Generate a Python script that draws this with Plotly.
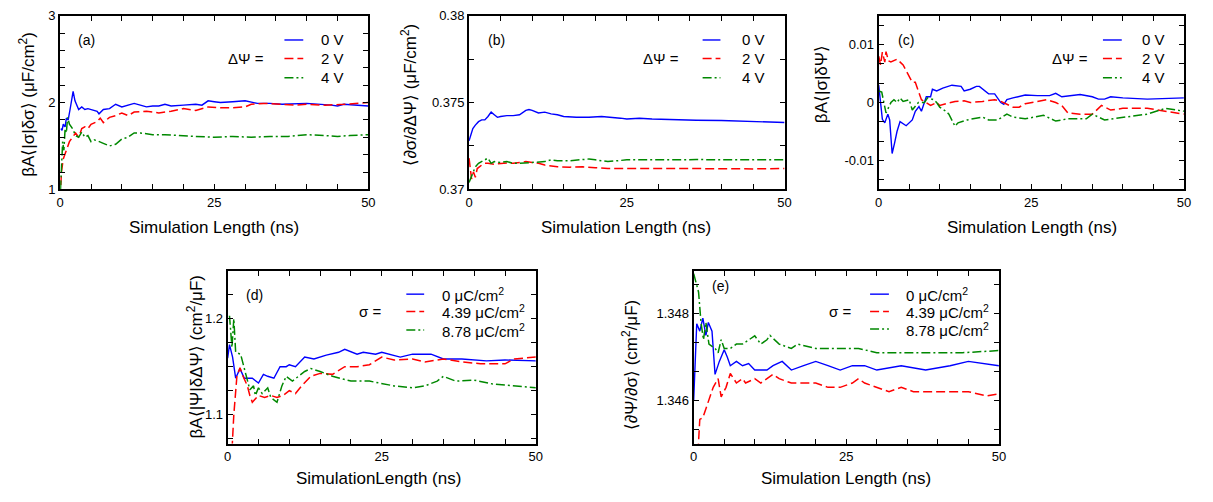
import plotly.graph_objects as go

W, H = 1213, 502
FONT = "Liberation Sans, Arial, Helvetica, sans-serif"
BLUE, RED, GREEN = "#0000ff", "#ff0000", "#008800"
DASH_RED = "9px,4px"
DASH_GREEN = "9px,3px,2px,3px"

# ---------------- data ----------------
# (a) beta A <|sigma| delta sigma>
ta_0 = [0.1, 0.3, 0.5, 0.8, 1.0, 1.3, 1.6, 1.9, 2.1, 2.4, 2.7, 3.0, 3.5, 4.0, 4.5, 5.0, 5.5, 6.0, 6.3, 7.0, 8.0, 9.0, 10, 11, 12, 13, 14, 15, 16, 17, 18, 20, 22, 23, 24, 25, 26, 28, 30, 32, 34, 36, 40, 44, 45, 46, 48, 50]
a_0 = [1.70, 1.68, 1.75, 1.72, 1.82, 1.80, 1.92, 2.05, 2.13, 2.02, 1.96, 1.92, 1.95, 1.92, 1.93, 1.92, 1.91, 1.90, 1.87, 1.92, 1.93, 1.98, 1.95, 1.97, 1.99, 1.97, 1.95, 1.96, 1.96, 1.98, 1.96, 1.97, 1.98, 1.97, 2.02, 2.01, 2.00, 2.01, 2.02, 1.99, 1.99, 1.98, 1.99, 1.97, 1.96, 1.98, 1.97, 1.96]
ta_2 = [0.1, 0.2, 0.5, 1.0, 1.5, 2.0, 2.5, 3.0, 3.5, 4.0, 4.5, 5.0, 6.0, 6.5, 7.0, 8.0, 9.0, 10, 11, 12, 14, 16, 18, 20, 22, 24, 26, 28, 30, 31, 33, 36, 38, 40, 43, 46, 48, 50]
a_2 = [1.05, 1.20, 1.35, 1.45, 1.55, 1.60, 1.65, 1.60, 1.70, 1.72, 1.70, 1.75, 1.78, 1.82, 1.77, 1.83, 1.85, 1.88, 1.85, 1.89, 1.90, 1.88, 1.90, 1.93, 1.91, 1.95, 1.94, 1.94, 1.95, 1.98, 1.99, 1.98, 1.97, 1.98, 1.97, 1.98, 1.99, 2.00]
ta_4 = [0.05, 0.2, 0.4, 0.6, 0.8, 1.0, 1.2, 1.5, 2.0, 2.5, 3.0, 3.5, 4.0, 4.5, 5.0, 5.5, 6.0, 7.0, 8.0, 9.0, 10, 11, 12, 13, 15, 17, 19, 22, 25, 28, 31, 34, 37, 40, 43, 45, 47, 50]
a_4 = [1.00, 1.35, 1.55, 1.45, 1.70, 1.65, 1.83, 1.75, 1.70, 1.62, 1.60, 1.66, 1.60, 1.62, 1.55, 1.57, 1.56, 1.53, 1.50, 1.52, 1.58, 1.60, 1.65, 1.65, 1.63, 1.63, 1.62, 1.61, 1.60, 1.61, 1.60, 1.61, 1.61, 1.63, 1.62, 1.61, 1.62, 1.63]

# (b) <d sigma / d DeltaPsi>
tb_0 = [0, 0.3, 0.6, 1.0, 1.5, 2.0, 2.5, 3.0, 3.5, 4.0, 4.5, 5, 6, 7, 8, 9, 9.5, 10, 11, 12, 13, 14, 15, 17, 19, 21, 23, 24, 25, 27, 29, 31, 33, 36, 40, 44, 47, 50]
b_0 = [0.3728, 0.3732, 0.3735, 0.3737, 0.3739, 0.3740, 0.3740, 0.3742, 0.37445, 0.3743, 0.37415, 0.3742, 0.37425, 0.37425, 0.3743, 0.37455, 0.3746, 0.37455, 0.3744, 0.37445, 0.37435, 0.3743, 0.3742, 0.37415, 0.37415, 0.3742, 0.37415, 0.3741, 0.37405, 0.3741, 0.37405, 0.37402, 0.3740, 0.37398, 0.37397, 0.37393, 0.3739, 0.37385]
tb_2 = [0, 0.2, 0.4, 0.7, 1.0, 1.3, 1.6, 2.0, 2.5, 3, 4, 5, 6, 7, 8, 9, 10, 11, 12, 13, 14, 16, 18, 20, 22, 25, 28, 31, 35, 40, 45, 50]
b_2 = [0.3718, 0.3711, 0.3706, 0.3710, 0.3707, 0.3712, 0.3713, 0.3714, 0.3715, 0.3715, 0.37145, 0.3715, 0.37152, 0.3715, 0.37155, 0.3716, 0.37155, 0.3715, 0.3714, 0.37135, 0.3713, 0.37128, 0.3713, 0.37125, 0.3712, 0.3712, 0.37122, 0.3712, 0.3712, 0.37118, 0.37118, 0.3712]
tb_4 = [0, 0.3, 0.6, 1.0, 1.5, 2.0, 2.5, 3.0, 3.5, 4, 5, 6, 7, 8, 10, 12, 13, 14, 16, 18, 19, 20, 22, 25, 28, 30, 33, 36, 40, 45, 50]
b_4 = [0.3704, 0.3707, 0.3710, 0.3713, 0.3715, 0.3716, 0.3717, 0.3718, 0.3715, 0.3716, 0.37155, 0.3716, 0.3715, 0.3715, 0.37155, 0.3716, 0.3717, 0.37165, 0.37165, 0.3717, 0.37175, 0.3717, 0.3716, 0.3717, 0.37168, 0.3717, 0.3717, 0.37172, 0.3717, 0.3717, 0.3717]

# (c) beta A <|sigma| delta Psi>
tc_0 = [0, 0.3, 0.6, 1.0, 1.5, 1.8, 2.2, 2.6, 3.0, 3.5, 4.5, 5.5, 6.0, 6.6, 7.0, 7.8, 8.5, 8.8, 9.5, 10.5, 12, 13.5, 14, 15, 16, 16.5, 18, 19, 20, 20.5, 21, 22, 24, 26, 28, 29, 30, 33, 35, 36, 37, 38, 40, 44, 46, 50]
c_0 = [0.0030, 0.0000, -0.0029, -0.0035, -0.0020, -0.0030, -0.0088, -0.0070, -0.0050, -0.0033, -0.0040, -0.0030, -0.0015, -0.0007, -0.0015, 0.0010, 0.0010, 0.0023, 0.0020, 0.0025, 0.0030, 0.0028, 0.0020, 0.0023, 0.0028, 0.0028, 0.0015, 0.0015, 0.0000, -0.0003, 0.0005, 0.0008, 0.0013, 0.0012, 0.0012, 0.0016, 0.0010, 0.0014, 0.0010, 0.0006, 0.0006, 0.0010, 0.0008, 0.0006, 0.0007, 0.0008]
tc_2 = [0, 0.3, 0.6, 1.0, 1.2, 1.6, 2.0, 3.0, 4.0, 4.8, 5.5, 6.0, 6.5, 7.0, 8.5, 9.5, 10, 11, 12.5, 14, 15, 17, 19, 20, 22, 23, 24, 26, 27.5, 29, 30, 31, 33, 35, 36.5, 38, 40, 44, 47, 50]
c_2 = [0.0080, 0.0065, 0.0087, 0.0070, 0.0088, 0.0072, 0.0070, 0.0075, 0.0065, 0.0048, 0.0035, 0.0035, 0.0020, 0.0005, -0.0005, 0.0000, -0.0005, -0.0002, 0.0002, 0.0003, 0.0000, 0.0002, 0.0005, 0.0002, -0.0008, -0.0008, -0.0002, 0.0002, 0.0005, 0.0000, -0.0005, -0.0018, -0.0020, -0.0020, -0.0005, -0.0013, -0.0010, -0.0010, -0.0015, -0.0020]
tc_4 = [0, 0.5, 1.2, 2.0, 2.5, 3.0, 3.5, 4.0, 5.0, 5.5, 6.5, 7.5, 8.0, 9.0, 9.5, 10, 11, 11.5, 12.5, 13, 14.5, 17, 18, 19.5, 21, 22, 24, 27, 29, 31, 34, 35, 37, 41, 44, 47, 50]
c_4 = [0.0020, 0.0018, -0.0018, 0.0000, 0.0005, 0.0000, 0.0008, 0.0002, 0.0005, -0.0013, 0.0000, 0.0000, 0.0008, 0.0005, 0.0000, -0.0008, -0.0015, -0.0020, -0.0041, -0.0035, -0.0030, -0.0025, -0.0030, -0.0030, -0.0020, -0.0025, -0.0028, -0.0022, -0.0032, -0.0028, -0.0028, -0.0020, -0.0030, -0.0025, -0.0020, -0.0010, -0.0015]

# (d) beta A <|Psi| delta DeltaPsi>
td_0 = [0, 0.3, 0.8, 1.3, 2.0, 2.7, 4.0, 5.0, 5.8, 6.5, 7.5, 8.5, 9.5, 10, 11, 12.5, 14, 16, 18, 19, 21, 22, 24, 25, 28, 30, 33, 35, 38, 42, 45, 50]
d_0 = [1.159, 1.173, 1.160, 1.138, 1.148, 1.138, 1.138, 1.133, 1.142, 1.140, 1.138, 1.150, 1.150, 1.152, 1.150, 1.160, 1.158, 1.162, 1.165, 1.168, 1.163, 1.165, 1.163, 1.165, 1.160, 1.163, 1.163, 1.158, 1.158, 1.156, 1.157, 1.156]
td_2 = [0.6, 1.0, 1.5, 2.0, 2.5, 3.2, 3.6, 4.0, 5.0, 6.0, 7.0, 8.0, 9.0, 10, 11, 12, 13.5, 15, 17, 19, 21, 23, 25, 27, 30, 32, 35, 38, 41, 45, 46.5, 50]
d_2 = [1.050, 1.100, 1.140, 1.149, 1.140, 1.130, 1.120, 1.113, 1.120, 1.118, 1.120, 1.118, 1.120, 1.125, 1.122, 1.130, 1.140, 1.143, 1.142, 1.150, 1.150, 1.152, 1.160, 1.157, 1.158, 1.155, 1.158, 1.155, 1.153, 1.153, 1.158, 1.160]
td_4 = [0.3, 0.7, 1.0, 1.3, 2.1, 3.0, 3.6, 4.2, 4.5, 5.0, 5.6, 6.5, 7.0, 8.0, 8.8, 9.5, 10.5, 11.5, 12.5, 13.5, 15, 17, 20, 23, 27, 30, 32, 34, 35, 37, 40, 43, 46, 50]
d_4 = [1.203, 1.170, 1.200, 1.165, 1.163, 1.140, 1.126, 1.130, 1.120, 1.128, 1.122, 1.128, 1.118, 1.113, 1.130, 1.140, 1.135, 1.140, 1.145, 1.148, 1.145, 1.140, 1.135, 1.135, 1.130, 1.128, 1.130, 1.135, 1.140, 1.135, 1.136, 1.132, 1.130, 1.128]

# (e) <d Psi / d sigma>
te_0 = [0, 0.5, 1.0, 1.5, 2.0, 2.4, 3.0, 3.5, 4.2, 5.0, 5.5, 6.0, 7, 8, 9, 10, 12, 13, 14.5, 16, 18, 20, 22, 24, 26, 28, 30, 34, 38, 42, 45, 50]
e_0 = [1.3460, 1.34777, 1.3476, 1.3479, 1.3475, 1.3478, 1.3476, 1.3466, 1.3469, 1.34717, 1.3470, 1.3468, 1.3469, 1.3468, 1.34685, 1.3467, 1.3467, 1.3468, 1.3469, 1.3467, 1.3468, 1.3469, 1.3468, 1.3467, 1.3468, 1.3468, 1.3467, 1.3468, 1.3467, 1.3468, 1.3469, 1.3468]
te_2 = [0.7, 1.0, 1.5, 2.5, 3.2, 4.0, 4.5, 5.3, 6.0, 7, 8, 8.5, 10, 11, 12, 13, 14, 16, 18, 20, 22, 24, 26, 27, 28, 30, 32, 34, 36, 40, 45, 48, 50]
e_2 = [1.3448, 1.34556, 1.3456, 1.3460, 1.3463, 1.3465, 1.34608, 1.3463, 1.34662, 1.3464, 1.3465, 1.3464, 1.3465, 1.3464, 1.3465, 1.3466, 1.3465, 1.3464, 1.3464, 1.3464, 1.3463, 1.3463, 1.3464, 1.3465, 1.3464, 1.3463, 1.3462, 1.3463, 1.3462, 1.3462, 1.3462, 1.3461, 1.34615]
te_4 = [0, 0.8, 1.2, 1.6, 2.0, 2.5, 3.5, 4.0, 4.5, 5, 6, 7, 8, 9, 10, 11, 12, 12.5, 14, 16, 17, 20, 22, 25, 27, 30, 33, 36, 40, 44, 50]
e_4 = [1.34893, 1.3485, 1.3478, 1.3474, 1.3478, 1.3473, 1.3472, 1.3471, 1.3474, 1.3472, 1.3472, 1.3473, 1.3473, 1.3474, 1.34749, 1.3473, 1.3474, 1.3475, 1.3473, 1.3472, 1.3473, 1.3472, 1.3472, 1.3472, 1.3472, 1.3471, 1.3471, 1.3471, 1.3471, 1.3471, 1.34715]

volt_labels = ["0 V", "2 V", "4 V"]
sigma_labels = ["0 \u03bcC/cm<sup>2</sup>", "4.39 \u03bcC/cm<sup>2</sup>", "8.78 \u03bcC/cm<sup>2</sup>"]
x_range = [0, 50]

# ---------------- layout helpers ----------------
def px(x):
    return x / W

def py(y):
    return 1 - y / H

fig = go.Figure()

panels = [
    dict(k="", xd=(56.7, 367.7), yd=(9, 188), yr=[1, 3], dt=1, t0=1, mdt=0.2, m0=1,
         series=[(ta_0, a_0), (ta_2, a_2), (ta_4, a_4)], labels=volt_labels, fmt=None),
    dict(k="2", xd=(469.3, 787.7), yd=(9, 188), yr=[0.37, 0.38], dt=0.005, t0=0.37, mdt=0.0025, m0=0.37,
         series=[(tb_0, b_0), (tb_2, b_2), (tb_4, b_4)], labels=volt_labels, fmt=None),
    dict(k="3", xd=(882.7, 1190.7), yd=(9, 188), yr=[-0.015, 0.015], dt=0.01, t0=0, mdt=0.01 / 3, m0=0,
         series=[(tc_0, c_0), (tc_2, c_2), (tc_4, c_4)], labels=volt_labels, fmt="hyphen"),
    dict(k="4", xd=(225.7, 536.7), yd=(271.7, 450), yr=[1.07, 1.25], dt=0.1, t0=1.0, mdt=0.025, m0=1.0,
         series=[(td_0, d_0), (td_2, d_2), (td_4, d_4)], labels=sigma_labels, fmt=None),
    dict(k="5", xd=(696, 1004), yd=(271.7, 450), yr=[1.345, 1.349], dt=0.002, t0=1.346, mdt=0.002 / 3, m0=1.346,
         series=[(te_0, e_0), (te_2, e_2), (te_4, e_4)], labels=sigma_labels, fmt=None),
]

styles = [dict(color=BLUE, width=1.4, dash="solid"),
          dict(color=RED, width=1.5, dash=DASH_RED),
          dict(color=GREEN, width=1.5, dash=DASH_GREEN)]

axis_common = dict(showline=True, linecolor="black", linewidth=2, mirror="ticks",
                   ticks="inside", ticklen=5, tickwidth=1, tickcolor="black",
                   showgrid=False, zeroline=False,
                   tickfont=dict(family=FONT, size=13, color="black"))

layout = dict(width=W, height=H, margin=dict(l=0, r=0, t=0, b=0, pad=0),
              paper_bgcolor="white", plot_bgcolor="white", showlegend=False,
              font=dict(family=FONT, color="black"))

for p in panels:
    k = p["k"]
    xa = "xaxis" + k
    ya = "yaxis" + k
    layout[xa] = dict(axis_common, domain=[px(p["xd"][0]), px(p["xd"][1])], range=x_range,
                      tickmode="linear", tick0=0, dtick=25,
                      minor=dict(tickmode="linear", tick0=0, dtick=5, ticks="inside",
                                 ticklen=5, tickwidth=1, tickcolor="black", showgrid=False),
                      anchor="y" + k)
    ycfg = dict(axis_common, domain=[py(p["yd"][1]), py(p["yd"][0])], range=p["yr"],
                tickmode="linear", tick0=p["t0"], dtick=p["dt"],
                minor=dict(tickmode="linear", tick0=p["m0"], dtick=p["mdt"], ticks="inside",
                           ticklen=5, tickwidth=1, tickcolor="black", showgrid=False),
                anchor="x" + k)
    if p["fmt"] == "hyphen":
        ycfg.update(tickmode="array", tickvals=[-0.01, 0, 0.01], ticktext=["-0.01", "0", "0.01"])
    layout[ya] = ycfg
    for (t, v), st, lab in zip(p["series"], styles, p["labels"]):
        fig.add_trace(go.Scatter(x=t, y=v, mode="lines", line=st, name=lab,
                                 xaxis="x" + k, yaxis="y" + k, hoverinfo="x+y"))

annotations = []
shapes = []

def text(x, y, s, size=14, angle=0, xanchor="center", yanchor="middle"):
    annotations.append(dict(x=px(x), y=py(y), xref="paper", yref="paper", text=s,
                            showarrow=False, textangle=angle, xanchor=xanchor,
                            yanchor=yanchor, font=dict(family=FONT, size=size, color="black")))

# axis titles
text(212, 227, "Simulation Length (ns)", 17)
text(628, 227, "Simulation Length (ns)", 17)
text(1037, 227, "Simulation Length (ns)", 17)
text(378, 486, "SimulationLength (ns)", 17)
text(850, 486, "Simulation Length (ns)", 17)

text(23, 100, "\u03b2A\u27e8|\u03c3|\u03b4\u03c3\u27e9 (\u03bcF/cm<sup>2</sup>)", 17, -90)
text(409, 90, "\u27e8\u2202\u03c3/\u2202\u0394\u03a8\u27e9 (\u03bcF/cm<sup>2</sup>)", 17, -90)
text(825, 80, "\u03b2A\u27e8|\u03c3|\u03b4\u03a8\u27e9", 17, -90)
text(193, 361, "\u03b2A\u27e8|\u03a8|\u03b4\u0394\u03a8\u27e9 (cm<sup>2</sup>/\u03bcF)", 17, -90)
text(632, 369, "\u27e8\u2202\u03a8/\u2202\u03c3\u27e9 (cm<sup>2</sup>/\u03bcF)", 17, -90)

# panel labels
for lab, x, y in [("(a)", 83, 34), ("(b)", 497, 34), ("(c)", 910, 34), ("(d)", 253, 297), ("(e)", 723, 288)]:
    text(x, y, lab, 14)

# legends (sample lines + labels)
legends = [
    dict(s0=283, s1=302, tx=318, lead="\u0394\u03a8 =", lx=264, rows=[34, 53, 73], labels=volt_labels),
    dict(s0=705, s1=723, tx=743, lead="\u0394\u03a8 =", lx=683, rows=[34, 53, 73], labels=volt_labels),
    dict(s0=1109, s1=1128, tx=1146, lead="\u0394\u03a8 =", lx=1096, rows=[34, 53, 73], labels=volt_labels),
    dict(s0=406, s1=424, tx=440, lead="\u03c3 =", lx=382, rows=[296, 314, 333], labels=sigma_labels),
    dict(s0=874, s1=893, tx=908, lead="\u03c3 =", lx=857, rows=[296, 314, 332], labels=sigma_labels),
]
for lg in legends:
    text(lg["lx"], lg["rows"][1], lg["lead"], 15, xanchor="right")
    for row, st, lab in zip(lg["rows"], styles, lg["labels"]):
        shapes.append(dict(type="line", xref="paper", yref="paper",
                           x0=px(lg["s0"]), x1=px(lg["s1"]), y0=py(row), y1=py(row),
                           line=dict(color=st["color"], width=st["width"], dash=st["dash"])))
        text(lg["tx"], row, lab, 15, xanchor="left")

layout["annotations"] = annotations
layout["shapes"] = shapes
fig.update_layout(**layout)
fig.write_html("out.html", config={"displayModeBar": False},
               post_script="document.body.style.margin='0px';document.body.style.overflow='hidden';")
